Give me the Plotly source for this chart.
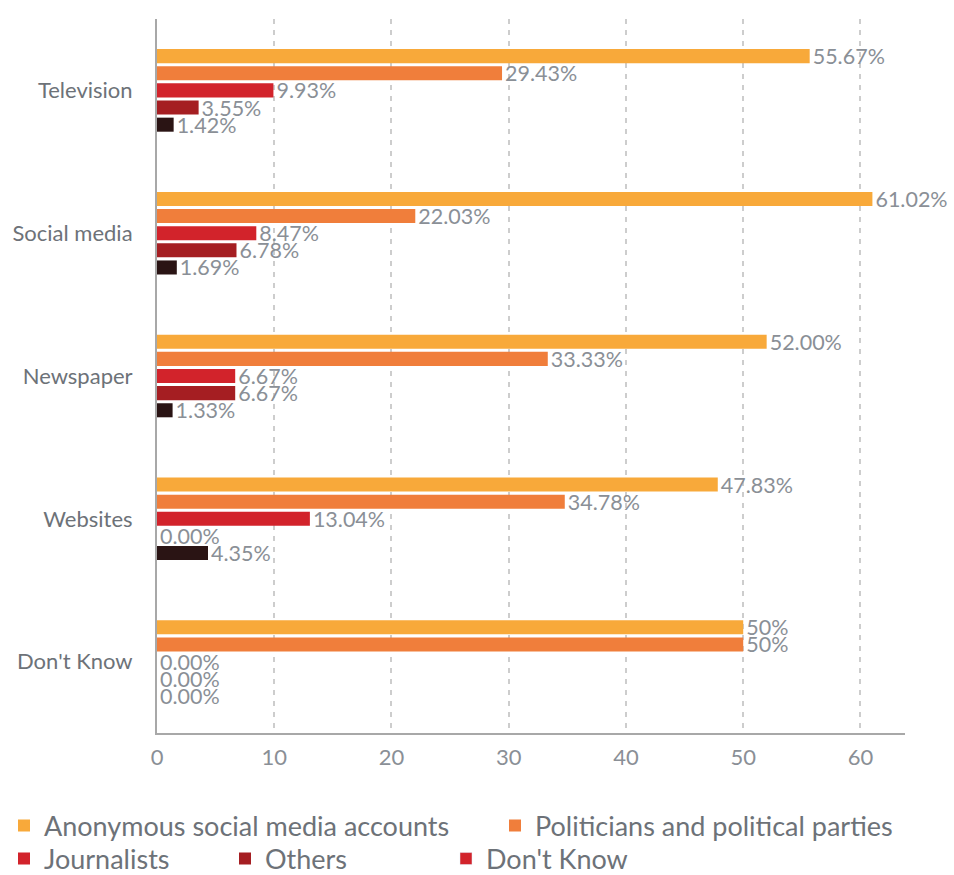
import plotly.graph_objects as go

categories = ["Television", "Social media", "Newspaper", "Websites", "Don't Know"]
series_names = ["Anonymous social media accounts", "Politicians and political parties",
                "Journalists", "Others", "Don't Know"]
anonymous = [55.67, 61.02, 52.00, 47.83, 50]
politicians = [29.43, 22.03, 33.33, 34.78, 50]
journalists = [9.93, 8.47, 6.67, 13.04, 0.00]
others = [3.55, 6.78, 6.67, 0.00, 0.00]
dont_know = [1.42, 1.69, 1.33, 4.35, 0.00]
labels_anonymous = ["55.67%", "61.02%", "52.00%", "47.83%", "50%"]
labels_politicians = ["29.43%", "22.03%", "33.33%", "34.78%", "50%"]
labels_journalists = ["9.93%", "8.47%", "6.67%", "13.04%", "0.00%"]
labels_others = ["3.55%", "6.78%", "6.67%", "0.00%", "0.00%"]
labels_dont_know = ["1.42%", "1.69%", "1.33%", "4.35%", "0.00%"]
x_ticks = [0, 10, 20, 30, 40, 50, 60]

bar_colors = ["#F8A93A", "#F07E3B", "#D2232B", "#A51E22", "#2A1414"]
legend_colors = ["#F8A93A", "#F07E3B", "#D2232B", "#A51E22", "#D2232B"]
values = [anonymous, politicians, journalists, others, dont_know]
labels = [labels_anonymous, labels_politicians, labels_journalists, labels_others, labels_dont_know]
legend_ids = ["legend", "legend3", "legend2", "legend2", "legend2"]

W, H = 954, 875

fig = go.Figure()
for i in range(5):
    fig.add_trace(go.Bar(
        y=categories, x=values[i], orientation="h", name=series_names[i],
        marker=dict(color=bar_colors[i], line=dict(width=0)),
        text=labels[i], textposition="outside", cliponaxis=False,
        constraintext="none", offsetgroup=str(i),
        textfont=dict(family="Lato", size=21.5, color="#8A8F96"),
        showlegend=(i != 4), legend=legend_ids[i],
    ))
# legend entry for "Don't Know" drawn in the legend colour of the reference
# (shares the offset group of the Don't Know bars so it takes no extra slot)
fig.add_trace(go.Bar(y=[None], x=[None], orientation="h", name=series_names[4],
                     offsetgroup="4", marker=dict(color=legend_colors[4]),
                     legend="legend2", showlegend=True))

legend_font = dict(family="Lato", size=27, color="#6D7278")
common = dict(orientation="h", xref="container", yref="container", yanchor="middle",
              xanchor="left", font=legend_font, itemwidth=30,
              bgcolor="rgba(0,0,0,0)", traceorder="normal")
fig.update_layout(
    width=W, height=H,
    barmode="group", bargap=0.4, bargroupgap=0.18,
    plot_bgcolor="white", paper_bgcolor="white",
    margin=dict(l=157, r=49, t=19, b=142),
    font=dict(family="Lato", color="#6D7278"),
    legend=dict(x=4 / W, y=1 - 826 / H, **common),
    legend3=dict(x=495 / W, y=1 - 826 / H, **common),
    legend2=dict(x=4 / W, y=1 - 859 / H, entrywidth=176, entrywidthmode="pixels", **common),
)
fig.update_xaxes(range=[0, 63.8], tickvals=x_ticks, showgrid=True, gridcolor="#CDCDCD",
                 griddash="5px,6px", gridwidth=1.5, zeroline=False, automargin=False,
                 showline=True, linecolor="#A8A8A8", linewidth=2,
                 tickfont=dict(family="Lato", size=22, color="#8A8F96"),
                 ticklabelstandoff=4)
fig.update_yaxes(autorange="reversed", showline=True, linecolor="#A8A8A8", linewidth=2,
                 showgrid=False, ticklabelstandoff=18, automargin=False,
                 tickfont=dict(family="Lato", size=22, color="#6D7278"))

fig.write_html("out.html", config={"displayModeBar": False},
               post_script="document.body.style.margin='0px';")
